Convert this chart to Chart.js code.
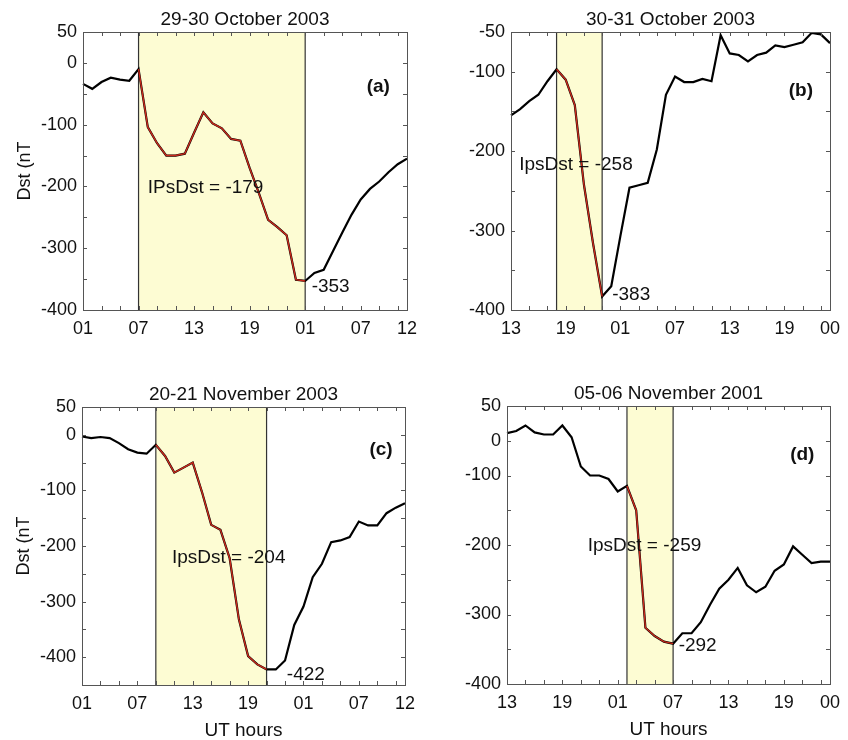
<!DOCTYPE html>
<html><head><meta charset="utf-8">
<script src="https://cdn.jsdelivr.net/npm/chart.js@4.4.1/dist/chart.umd.min.js"></script>
<style>
html,body{margin:0;padding:0;background:#fff;}
#wrap{position:relative;width:848px;height:740px;overflow:hidden;background:#fff;}
canvas{position:absolute;left:0;top:0;}
</style></head><body><div id="wrap">
<canvas id="ca" width="848" height="740"></canvas>
<canvas id="cb" width="848" height="740"></canvas>
<canvas id="cc" width="848" height="740"></canvas>
<canvas id="cd" width="848" height="740"></canvas>
</div>
<script>
// ---- categories (UT hours) ----
const hoursFrom01 = ['01','02','03','04','05','06','07','08','09','10','11','12','13','14','15','16','17','18','19','20','21','22','23','00','01','02','03','04','05','06','07','08','09','10','11','12'];
const hoursFrom13 = ['13','14','15','16','17','18','19','20','21','22','23','00','01','02','03','04','05','06','07','08','09','10','11','12','13','14','15','16','17','18','19','20','21','22','23','00'];
const xLabelIdx = [0, 6, 12, 18, 24, 30, 35];

// ---- Dst values (nT), hourly ----
const dstA = [-34,-42,-31,-24,-27,-29,-10,-104,-130,-150,-150,-147,-113,-80,-98,-106,-123,-126,-170,-211,-254,-266,-279,-351,-353,-340,-335,-305,-275,-246,-221,-204,-192,-177,-164,-155];
const dstB = [-155,-147,-137,-129,-112,-97,-110,-142,-242,-316,-383,-370,-307,-246,-243,-240,-198,-129,-106,-113,-113,-109,-112,-54,-77,-79,-87,-79,-76,-67,-69,-66,-63,-51,-53,-64];
const dstC = [-3,-6,-4,-6,-15,-26,-32,-34,-18,-38,-68,-59,-50,-103,-162,-171,-222,-332,-398,-413,-422,-422,-406,-342,-309,-256,-232,-193,-190,-184,-156,-163,-163,-141,-131,-123];
const dstD = [11,14,22,12,9,9,22,5,-37,-50,-50,-55,-73,-65,-100,-269,-281,-289,-292,-277,-277,-261,-236,-213,-200,-183,-208,-218,-210,-187,-178,-152,-164,-176,-174,-174];

// ---- main phase (shaded) index ranges ----
const shadeA = [6, 24];
const shadeB = [5, 10];
const shadeC = [8, 20];
const shadeD = [13, 18];

// ---- y tick labels ----
const yValsA = [50, 0, -100, -200, -300, -400];
const yTextA = ['50', '0', '-100', '-200', '-300', '-400'];
const yValsB = [-50, -100, -200, -300, -400];
const yTextB = ['-50', '-100', '-200', '-300', '-400'];
const yValsC = [50, 0, -100, -200, -300, -400];
const yTextC = ['50', '0', '-100', '-200', '-300', '-400'];
const yValsD = [50, 0, -50, -150, -250, -350];
const yTextD = ['50', '0', '-100', '-200', '-300', '-400'];

// ---- texts ----
const titles = ['29-30 October 2003', '30-31 October 2003', '20-21 November 2003', '05-06 November 2001'];
const tags = ['(a)', '(b)', '(c)', '(d)'];
const ipsTexts = ['IPsDst = -179', 'IpsDst = -258', 'IpsDst = -204', 'IpsDst = -259'];
const peakTexts = ['-353', '-383', '-422', '-292'];

const FONT = "'Liberation Sans', Arial, Helvetica, sans-serif";
const W = 848, H = 740, YW = 60, XH = 50;

const panels = [
  {id:'ca', hours:hoursFrom01, dst:dstA, shade:shadeA, yMin:-400, yMax:50, yVals:yValsA, yText:yTextA, area:[83,32,407,310], ylab:true, xlab:false, ipsPos:[7.0,-202], peakPos:[24.7,-363], tagPos:[31.9,-39]},
  {id:'cb', hours:hoursFrom13, dst:dstB, shade:shadeB, yMin:-400, yMax:-50, yVals:yValsB, yText:yTextB, area:[511,32,834,310], ylab:false, xlab:false, ipsPos:[0.9,-217], peakPos:[11.1,-381], tagPos:[31.8,-124]},
  {id:'cc', hours:hoursFrom01, dst:dstC, shade:shadeC, yMin:-450, yMax:50, yVals:yValsC, yText:yTextC, area:[82,407,405,685], ylab:true, xlab:true, ipsPos:[9.75,-222], peakPos:[22.2,-432], tagPos:[32.4,-27]},
  {id:'cd', hours:hoursFrom13, dst:dstD, shade:shadeD, yMin:-350, yMax:50, yVals:yValsD, yText:yTextD, area:[507,406,831,684], ylab:false, xlab:true, ipsPos:[8.75,-151], peakPos:[18.6,-295], tagPos:[32.0,-20]}
];

const decoPlugin = {
  id: 'deco',
  beforeDatasetsDraw(chart, args, opts) {
    const p = opts.panel;
    const ctx = chart.ctx, ca = chart.chartArea, x = chart.scales.x;
    const x1 = x.getPixelForValue(p.shade[0]), x2 = x.getPixelForValue(p.shade[1]);
    ctx.save();
    ctx.fillStyle = '#fdfcd3';
    ctx.fillRect(x1, ca.top, x2 - x1, ca.bottom - ca.top);
    ctx.strokeStyle = '#333';
    ctx.lineWidth = 1.2;
    ctx.beginPath();
    ctx.moveTo(x1, ca.top); ctx.lineTo(x1, ca.bottom);
    ctx.moveTo(x2, ca.top); ctx.lineTo(x2, ca.bottom);
    ctx.stroke();
    ctx.restore();
  },
  afterDraw(chart, args, opts) {
    const p = opts.panel, i = opts.index;
    const ctx = chart.ctx, ca = chart.chartArea, x = chart.scales.x, y = chart.scales.y;
    ctx.save();
    // box
    ctx.strokeStyle = '#555';
    ctx.lineWidth = 1;
    ctx.strokeRect(Math.round(ca.left) + 0.5, Math.round(ca.top) + 0.5, Math.round(ca.right - ca.left), Math.round(ca.bottom - ca.top));
    // inward ticks
    const TL = 4;
    ctx.beginPath();
    for (let k = 0; k < p.hours.length; k += 2) {
      const px = Math.round(x.getPixelForValue(k)) + 0.5;
      ctx.moveTo(px, ca.bottom); ctx.lineTo(px, ca.bottom - TL);
      ctx.moveTo(px, ca.top); ctx.lineTo(px, ca.top + TL);
    }
    for (let v = p.yMin; v <= p.yMax; v += 50) {
      const py = Math.round(y.getPixelForValue(v)) + 0.5;
      ctx.moveTo(ca.left, py); ctx.lineTo(ca.left + TL, py);
      ctx.moveTo(ca.right, py); ctx.lineTo(ca.right - TL, py);
    }
    ctx.stroke();
    // texts
    ctx.fillStyle = '#111';
    ctx.textBaseline = 'middle';
    ctx.textAlign = 'center';
    ctx.font = '19px ' + FONT;
    ctx.fillText(titles[i], (ca.left + ca.right) / 2, ca.top - 12);
    if (p.xlab) ctx.fillText('UT hours', (ca.left + ca.right) / 2, ca.bottom + 46);
    if (p.ylab) {
      ctx.save();
      ctx.translate(ca.left - 58, (ca.top + ca.bottom) / 2);
      ctx.rotate(-Math.PI / 2);
      ctx.font = '18px ' + FONT;
      ctx.fillText('Dst (nT', 0, 0);
      ctx.restore();
    }
    ctx.font = 'bold 19px ' + FONT;
    ctx.fillText(tags[i], x.getPixelForValue(p.tagPos[0]), y.getPixelForValue(p.tagPos[1]));
    ctx.font = '19px ' + FONT;
    ctx.textAlign = 'left';
    ctx.fillText(ipsTexts[i], x.getPixelForValue(p.ipsPos[0]), y.getPixelForValue(p.ipsPos[1]));
    ctx.fillText(peakTexts[i], x.getPixelForValue(p.peakPos[0]), y.getPixelForValue(p.peakPos[1]));
    ctx.restore();
  }
};

panels.forEach((p, i) => {
  const red = p.dst.map((v, k) => (k >= p.shade[0] && k <= p.shade[1]) ? v : null);
  new Chart(document.getElementById(p.id), {
    type: 'line',
    data: {
      labels: p.hours,
      datasets: [
        {data: red, borderColor: '#c9291b', borderWidth: 1.4, pointRadius: 0, tension: 0, spanGaps: false},
        {data: p.dst, borderColor: '#000', borderWidth: 2.2, pointRadius: 0, tension: 0}
      ]
    },
    options: {
      responsive: false,
      animation: false,
      devicePixelRatio: 1,
      events: [],
      layout: {padding: {left: p.area[0] - YW, top: p.area[1], right: W - p.area[2], bottom: H - p.area[3] - XH}},
      plugins: {legend: {display: false}, title: {display: false}, tooltip: {enabled: false}, deco: {panel: p, index: i}},
      scales: {
        x: {
          type: 'category', offset: false,
          grid: {display: false, drawTicks: false, tickLength: 0}, border: {display: false},
          afterFit(s) { s.height = XH; },
          ticks: {
            autoSkip: false, maxRotation: 0, minRotation: 0, padding: 8,
            color: '#111', font: {family: FONT, size: 18},
            callback(value, index) { return xLabelIdx.includes(index) ? p.hours[index] : ''; }
          }
        },
        y: {
          type: 'linear', min: p.yMin, max: p.yMax,
          grid: {display: false, drawTicks: false, tickLength: 0}, border: {display: false},
          afterFit(s) { s.width = YW; },
          ticks: {
            stepSize: 50, autoSkip: false, padding: 6,
            color: '#111', font: {family: FONT, size: 18},
            callback(value) { const k = p.yVals.indexOf(value); return k >= 0 ? p.yText[k] : ''; }
          }
        }
      }
    },
    plugins: [decoPlugin]
  });
});
</script>
</body></html>
